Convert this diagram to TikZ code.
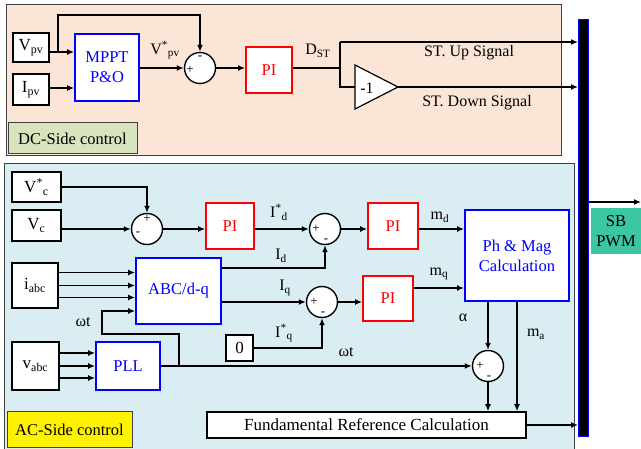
\documentclass[tikz,border=0pt]{standalone}
\usepackage{fontspec}
\setmainfont{Liberation Serif}
\usetikzlibrary{arrows.meta,calc}
\newcommand{\fsz}[2]{\fontsize{#1}{#2}\selectfont}
\definecolor{dcpeach}{HTML}{FBE5D6}
\definecolor{acblue}{HTML}{DAEDF3}
\definecolor{dcgreen}{HTML}{D7E4BD}
\definecolor{sbteal}{HTML}{3CC6A2}
\definecolor{panelline}{HTML}{404040}
\begin{document}
\begin{tikzpicture}[x=1pt,y=-1pt,
  conn/.style={line width=1.4pt},
  arr/.style={conn,-{Latex[length=7pt,width=6pt]}},
  bk/.style={draw=black,line width=1.6pt,fill=white,inner sep=0pt,font=\fsz{17}{20}},
  bb/.style={draw=blue,line width=1.8pt,fill=white,text=blue,inner sep=0pt,align=center,font=\fsz{16.5}{20}},
  rb/.style={draw=red,line width=1.8pt,fill=white,text=red,inner sep=0pt,font=\fsz{16.5}{20}},
  sumc/.style={circle,draw=black,line width=1.4pt,fill=white,minimum size=31pt,inner sep=0pt},
  sg/.style={font=\fsz{13}{13},inner sep=0pt},
  lbl/.style={inner sep=0pt,font=\fsz{16}{19}},
  panel/.style={draw=panelline,line width=0.8pt},
  tag/.style={draw=panelline,line width=1pt,inner sep=0pt,font=\fsz{16.5}{20}}
]
\useasboundingbox (0,0) rectangle (641,449);
% panels
\fill[dcpeach,panel] (6,4) rectangle (561,155);
\begin{scope}
\clip (0,0) rectangle (641,449);
\fill[acblue,panel] (4,163) rectangle (574,460);
\end{scope}

% ---------------- DC side
\node[bk,minimum width=36pt,minimum height=29pt] (vpv) at (31,47.5) {V\textsubscript{pv}};
\node[bk,minimum width=36pt,minimum height=31pt] (ipv) at (31,89.5) {I\textsubscript{pv}};
\node[bb,minimum width=64pt,minimum height=67pt] (mppt) at (107,67.5) {MPPT\\P\&O};
\node[sumc] (s1) at (200,68) {};
\node[rb,minimum width=46pt,minimum height=46pt] (pi1) at (269,70) {PI};
\node[sg] at (190,70) {+};
\node[sg] at (200,58) {-};

\coordinate (y52) at (0,52);
\coordinate (y88) at (0,88);
\coordinate (c1) at (58,52);
\coordinate (c2) at (58,15);
\draw[arr] (vpv.east |- y52) -- (mppt.west |- y52);
\draw[arr] (ipv.east |- y88) -- (mppt.west |- y88);
\draw[arr] (c1) -- (c2) -| (s1.north);
\draw[arr] (mppt.east |- s1) -- (s1.west);
\draw[arr] (s1.east) -- (s1 -| pi1.west);
\node[lbl] at (165,50) {V\textsuperscript{*}\textsubscript{pv}};

\coordinate (j) at (340,68);
\coordinate (jt) at (340,42);
\coordinate (jb) at (340,87);
\coordinate (tin) at (355,87);
\coordinate (tout) at (398,87);
\draw[line width=1.2pt,fill=white] (355,65) -- (398,87) -- (355,109) -- cycle;
\node[lbl] (neg) at (367,88) {-1};
\node[draw=blue,fill=black,line width=1pt,minimum width=10pt,minimum height=417pt,inner sep=0pt] (bar) at (583.5,228.5) {};
\draw[conn] (s1 -| pi1.east) -- (j) -- (jt);
\draw[arr] (jt) -- (jt -| bar.west);
\draw[conn] (j) -- (jb) -- (tin);
\draw[arr] (tout) -- (tout -| bar.west);
\node[lbl] at (318,51) {D\textsubscript{ST}};
\node[lbl] at (469,53) {ST. Up Signal};
\node[lbl] at (477,103) {ST. Down Signal};
\node[tag,fill=dcgreen,minimum width=129pt,minimum height=31pt] (dctag) at (72.5,138.5) {DC-Side control};

% ---------------- SB PWM
\node[fill=sbteal,minimum width=50pt,minimum height=46pt,inner sep=0pt,align=center,font=\fsz{16.5}{20}] (sb) at (616,231) {SB\\PWM};
\coordinate (pwmout) at (641,202);
\draw[arr] (bar.east |- pwmout) -- (pwmout);

% ---------------- AC side
\node[bk,minimum width=49pt,minimum height=30pt] (vcs) at (36.5,187) {V\textsuperscript{*}\textsubscript{c}};
\node[bk,minimum width=49pt,minimum height=31pt] (vc) at (36.5,225.5) {V\textsubscript{c}};
\node[sumc] (s2) at (147,229) {};
\node[sg] at (147,219) {+};
\node[sg] at (138,234) {-};
\node[rb,minimum width=48pt,minimum height=46pt] (pi2) at (230,226) {PI};
\node[sumc] (s3) at (325,229) {};
\node[sg] at (316,229) {+};
\node[sg] at (326,241) {-};
\node[rb,minimum width=50pt,minimum height=46pt] (pi3) at (393,226) {PI};
\node[bk,minimum width=46pt,minimum height=45pt] (iabc) at (35,285.5) {i\textsubscript{abc}};
\node[bb,minimum width=85pt,minimum height=66pt] (abc) at (178.5,291) {ABC/d-q};
\node[sumc] (s4) at (322,302) {};
\node[sg] at (314,302) {+};
\node[sg] at (323,314) {-};
\node[rb,minimum width=50pt,minimum height=45pt] (pi4) at (388,298.5) {PI};
\node[bk,minimum width=27pt,minimum height=26pt] (zero) at (239.5,348) {0};
\node[bb,minimum width=104pt,minimum height=91pt] (ph) at (517,255.5) {Ph \& Mag\\Calculation};
\node[bk,minimum width=47pt,minimum height=48pt] (vabc) at (35.5,366) {v\textsubscript{abc}};
\node[bb,minimum width=64pt,minimum height=48pt] (pll) at (128,366) {PLL};
\node[sumc] (s5) at (488,366) {};
\node[sg] at (480,366) {+};
\node[sg] at (489,378) {-};
\node[bk,minimum width=319pt,minimum height=26pt] (fund) at (366.5,425) {Fundamental Reference Calculation};
\node[tag,fill=yellow,minimum width=125pt,minimum height=36pt] (actag) at (69.5,430) {AC-Side control};

% connectors
\draw[arr] (vcs.east) -| (s2.north);
\draw[arr] (vc.east |- s2) -- (s2.west);
\draw[arr] (s2.east) -- (s2 -| pi2.west);
\draw[arr] (s2 -| pi2.east) -- (s3.west);
\draw[arr] (s3.east) -- (s3 -| pi3.west);
\draw[arr] (s3 -| pi3.east) -- (s3 -| ph.west);
\coordinate (yid) at (0,268);
\draw[arr] (abc.east |- yid) -| (s3.south);
\draw[arr] (abc.east |- s4) -- (s4.west);
\draw[arr] (s4.east) -- (s4 -| pi4.west);
\draw[arr] (zero.east) -| (s4.south);
\coordinate (ymq) at (0,288);
\draw[arr] (pi4.east |- ymq) -- (ph.west |- ymq);
\draw[arr] (ph.south -| s5) -- (s5.north);
\coordinate (xma) at (517,0);
\draw[arr] (ph.south -| xma) -- (fund.north -| xma);
\draw[arr] (s5.south) -- (s5 |- fund.north);
\draw[arr] (fund.east) -- (fund.east -| bar.west);
\draw[arr] (pll.east) -- (s5.west);
\coordinate (w1) at (179,334);
\coordinate (w2) at (102,311);
\draw[arr] (w1 |- pll.east) -- (w1) -- (w1 -| w2) -- (w2) -- (w2 -| abc.west);
\foreach \dy in {-13,0,12} {
  \coordinate (ia) at ($(iabc.east)+(0,\dy)$);
  \coordinate (va) at ($(vabc.east)+(0,\dy)$);
  \draw[arr] (ia) -- (ia -| abc.west);
  \draw[arr] (va) -- (va -| pll.west);
}
\node[lbl] at (279,212) {I\textsuperscript{*}\textsubscript{d}};
\node[lbl] at (281,256) {I\textsubscript{d}};
\node[lbl] at (285,288) {I\textsubscript{q}};
\node[lbl] at (284,333) {I\textsuperscript{*}\textsubscript{q}};
\node[lbl] at (440,217) {m\textsubscript{d}};
\node[lbl] at (439,274) {m\textsubscript{q}};
\node[lbl] at (463,318) {α};
\node[lbl] at (536,334) {m\textsubscript{a}};
\node[lbl] at (346,352) {ωt};
\node[lbl] at (83,322) {ωt};
\end{tikzpicture}
\end{document}
